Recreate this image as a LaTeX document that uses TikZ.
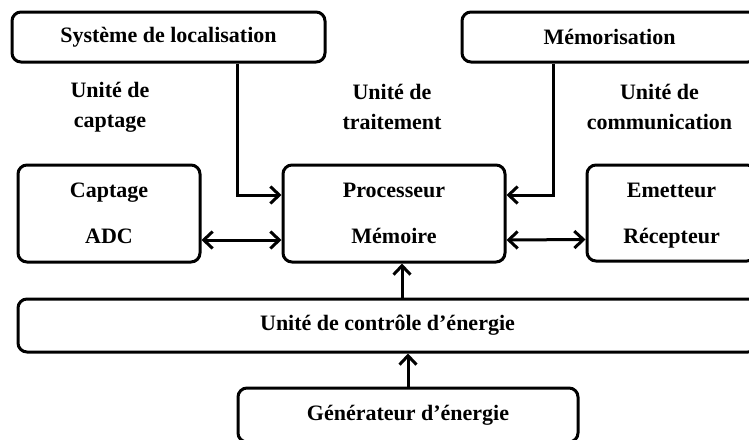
\documentclass[tikz,border=0pt]{standalone}
\usepackage{fontspec}
\setmainfont{Liberation Serif}
\usetikzlibrary{arrows.meta}
\tikzset{
  bloc/.style={draw, line width=3pt, rounded corners=9pt, inner sep=0pt, align=center, font=\bfseries\fontsize{22}{46}\selectfont},
  unite/.style={align=center, font=\bfseries\fontsize{22}{30}\selectfont},
  fleche/.style={line width=3pt, -{Straight Barb[length=9pt,width=17pt]}},
  dfleche/.style={line width=3pt, {Straight Barb[length=9pt,width=17pt]}-{Straight Barb[length=9pt,width=17pt]}}
}
\begin{document}
\begin{tikzpicture}[x=1pt,y=-1pt]
        \useasboundingbox (0,0) rectangle (749,439);\clip (0,0) rectangle (749,439);
        % box
        \node [bloc, minimum width=313pt, minimum height=50pt] (loc) at (168.5,37) {Système de localisation};
        \node [bloc, minimum width=295pt, minimum height=50pt] (mem) at (609.5,37) {Mémorisation};
        \node [bloc, minimum width=182pt, minimum height=97pt] (capt) at (109,213.5) {Captage\\ADC};
        \node [bloc, minimum width=222pt, minimum height=97pt] (proc) at (394,213.5) {Processeur\\Mémoire};
        \node [bloc, minimum width=169pt, minimum height=96pt] (emet) at (671.5,213) {Emetteur\\\smash{Récepteur}};
        \node [bloc, minimum width=739pt, minimum height=53pt] (ctrl) at (387.5,325.5) {Unité de contrôle d’énergie};
        \node [bloc, minimum width=340pt, minimum height=54pt] (gen) at (408,415) {Générateur d’énergie};
        % text
        \node [unite] (ucapt) at (110,107) {Unité de\\captage};
        \node [unite] (utrait) at (392,107) {Unité de\\traitement};
        \node [unite] (ucomm) at (659.5,107) {Unité de\\communication};
        % arrow
        \draw [fleche] ([xshift=68.5pt]loc.south) |- ([yshift=18.5pt]proc.west);
        \draw [fleche] ([xshift=-56.5pt]mem.south) |- ([yshift=18.5pt]proc.east);
        \draw [dfleche] ([yshift=-26.5pt]capt.east) -- ([yshift=-26.5pt]proc.west);\draw [dfleche] ([yshift=-26.5pt]proc.east) -- ([yshift=-26.5pt]emet.west);
        \draw [fleche] ([xshift=8pt]proc.south |- ctrl.north) -- ([xshift=8pt]proc.south);
        \draw [fleche] (gen.north) -- (gen.north |- ctrl.south);
    \end{tikzpicture}
\end{document}
